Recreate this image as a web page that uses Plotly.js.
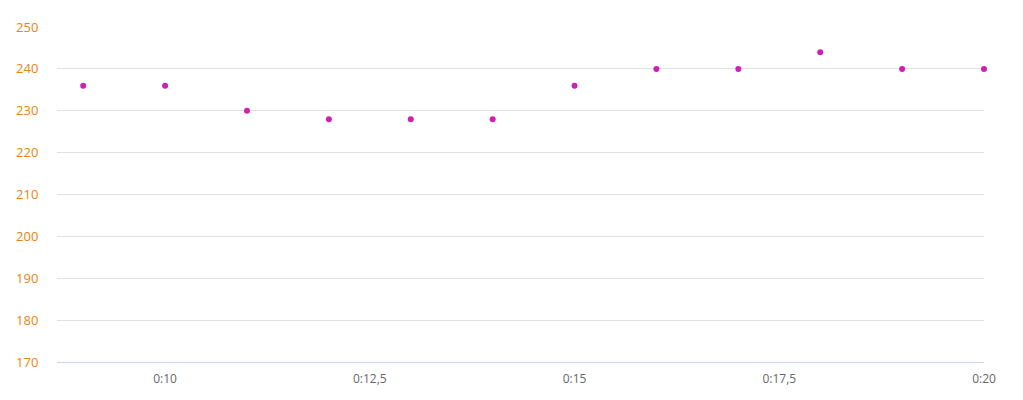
<!DOCTYPE html>
<html>
<head>
<meta charset="utf-8">
<script src="https://cdn.plot.ly/plotly-3.0.1.min.js"></script>
<style>html,body{margin:0;padding:0;background:#fff;}#chart{width:1023px;height:400px;}</style>
</head>
<body>
<div id="chart"></div>
<script>
const minutes = [9, 10, 11, 12, 13, 14, 15, 16, 17, 18, 19, 20];
const values = [236, 236, 230, 228, 228, 228, 236, 240, 240, 244, 240, 240];
const xTickVals = [10, 12.5, 15, 17.5, 20];
const xTickText = ["0:10", "0:12,5", "0:15", "0:17,5", "0:20"];
const yTickVals = [170, 180, 190, 200, 210, 220, 230, 240, 250];

const trace = {
  x: minutes,
  y: values,
  type: 'scatter',
  mode: 'markers',
  marker: {color: '#d020b4', size: 6},
  cliponaxis: false,
  hoverinfo: 'x+y'
};

const layout = {
  width: 1023,
  height: 400,
  margin: {l: 57, r: 39, t: 27, b: 38},
  paper_bgcolor: '#ffffff',
  plot_bgcolor: '#ffffff',
  showlegend: false,
  font: {family: '"Open Sans", sans-serif'},
  xaxis: {
    range: [8.68, 20],
    tickvals: xTickVals,
    ticktext: xTickText,
    showgrid: false,
    zeroline: false,
    showline: true,
    linecolor: '#ccd6eb',
    linewidth: 1,
    ticks: 'outside',
    ticklen: 6,
    tickcolor: 'rgba(0,0,0,0)',
    tickfont: {color: '#666666', size: 12},
    fixedrange: true
  },
  yaxis: {
    range: [170, 250],
    tickvals: yTickVals,
    showgrid: true,
    gridcolor: '#e0e0e0',
    gridwidth: 1,
    zeroline: false,
    showline: false,
    ticks: 'outside',
    ticklen: 15,
    tickcolor: 'rgba(0,0,0,0)',
    tickfont: {color: '#ea8410', size: 13},
    fixedrange: true
  }
};

Plotly.newPlot('chart', [trace], layout, {displayModeBar: false, staticPlot: true});
</script>
</body>
</html>
